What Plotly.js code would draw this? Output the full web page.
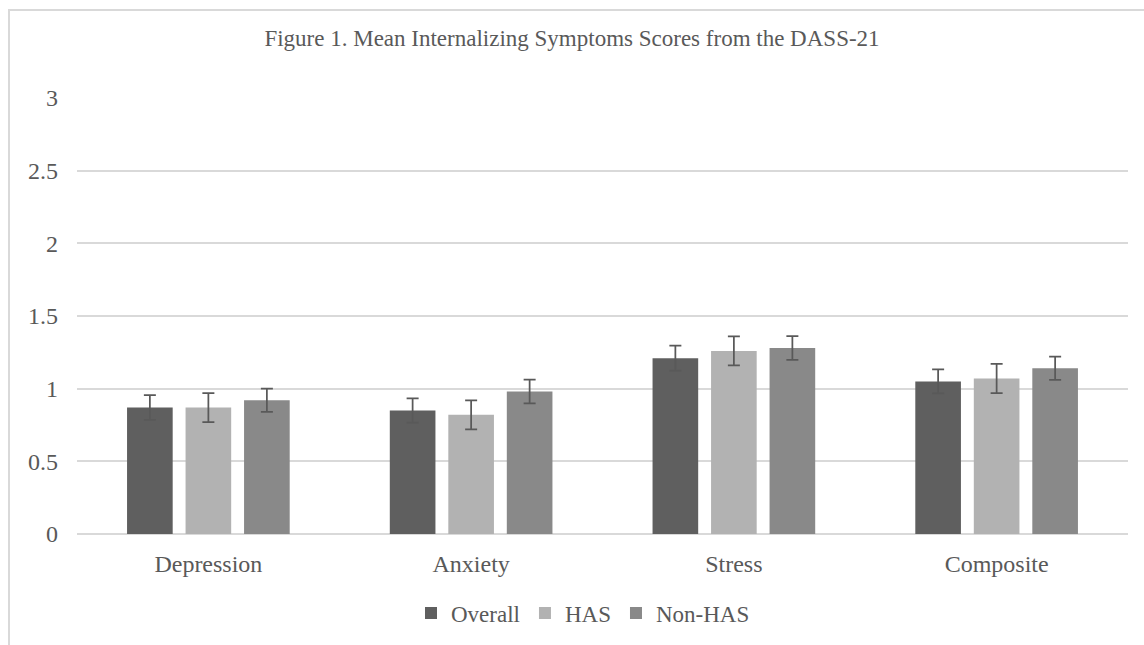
<!DOCTYPE html>
<html>
<head>
<meta charset="utf-8">
<script src="https://cdn.plot.ly/plotly-3.0.1.min.js"></script>
<style>
  html, body { margin: 0; padding: 0; background: #ffffff; overflow: hidden; }
  #wrap { position: relative; width: 1144px; height: 645px; }
  #chart { position: absolute; left: 0; top: 0; width: 1144px; height: 645px; }
  #frame { position: absolute; left: 8px; top: 9px; width: 1200px; height: 700px;
           border-left: 2px solid #d9d9d9; border-top: 2px solid #d9d9d9; pointer-events: none; }
</style>
</head>
<body>
<div id="wrap">
  <div id="chart"></div>
  <div id="frame"></div>
</div>
<script>
const categories = ["Depression", "Anxiety", "Stress", "Composite"];
const overall    = [0.87, 0.85, 1.21, 1.05];
const overallErr = [0.085, 0.083, 0.086, 0.083];
const has        = [0.87, 0.82, 1.26, 1.07];
const hasErr     = [0.10, 0.10, 0.10, 0.10];
const nonHas     = [0.92, 0.98, 1.28, 1.14];
const nonHasErr  = [0.08, 0.082, 0.082, 0.08];
const yTicks     = [0, 0.5, 1, 1.5, 2, 2.5, 3];
const yTickText  = ["0", "0.5", "1", "1.5", "2", "2.5", "3"];

const txt = "#595959";
const font = {family: "'Liberation Serif', 'Times New Roman', serif", color: txt};

function series(name, vals, errs, color) {
  return {
    type: "bar", name: name, x: categories, y: vals,
    marker: {color: color, line: {width: 0}},
    error_y: {type: "data", array: errs, visible: true, color: "#595959", thickness: 1.75, width: 6},
    hoverinfo: "x+y+name"
  };
}

const data = [
  series("Overall", overall, overallErr, "#5f5f5f"),
  series("HAS", has, hasErr, "#b2b2b2"),
  series("Non-HAS", nonHas, nonHasErr, "#898989")
];

const layout = {
  width: 1144, height: 645,
  margin: {l: 77, r: 16, t: 98, b: 111, pad: 0},
  paper_bgcolor: "rgba(0,0,0,0)", plot_bgcolor: "rgba(0,0,0,0)",
  font: Object.assign({size: 24}, font),
  title: {
    text: "Figure 1. Mean Internalizing Symptoms Scores from the DASS-21",
    font: Object.assign({size: 23}, font),
    x: 0.5, xref: "container", xanchor: "center",
    y: 1 - 38/645, yref: "container", yanchor: "middle"
  },
  barmode: "group", bargap: 0.332, bargroupgap: 0.22,
  xaxis: {
    type: "category", showgrid: false, zeroline: false, showline: false,
    ticks: "", tickfont: Object.assign({size: 24}, font), ticklabelstandoff: 13
  },
  yaxis: {
    range: [0, 3], tickvals: yTicks, ticktext: yTickText,
    showgrid: true, gridcolor: "#d9d9d9", gridwidth: 2,
    zeroline: true, zerolinecolor: "#d9d9d9", zerolinewidth: 2,
    showline: false, ticks: "", tickfont: Object.assign({size: 24}, font),
    ticklabelstandoff: 18, fixedrange: true
  },
  showlegend: true,
  legend: {
    orientation: "h", x: 0.5 + 11/1144, xref: "container", xanchor: "center",
    y: 1 - 613/645, yref: "container", yanchor: "middle",
    font: Object.assign({size: 23}, font), itemwidth: 30, tracegroupgap: 0,
    bgcolor: "rgba(0,0,0,0)"
  }
};

Plotly.newPlot("chart", data, layout, {displayModeBar: false, staticPlot: true});
</script>
</body>
</html>
